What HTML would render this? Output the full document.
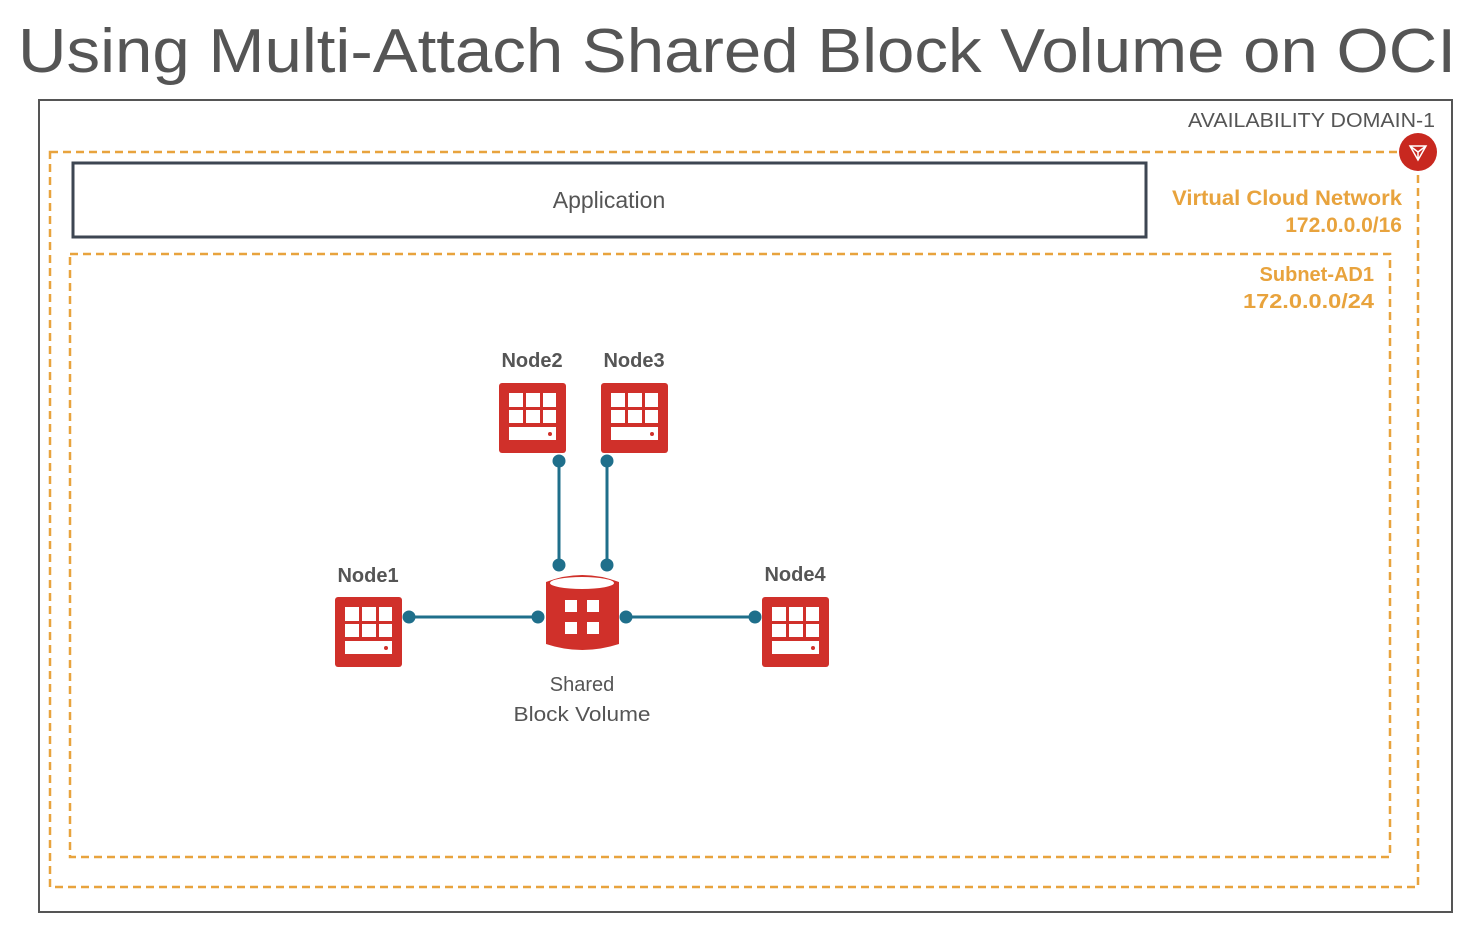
<!DOCTYPE html>
<html><head><meta charset="utf-8"><style>
body{margin:0;background:#fff;}
svg{display:block;}
text{font-family:"Liberation Sans",sans-serif;}
</style></head><body>
<svg width="1484" height="928" viewBox="0 0 1484 928" xmlns="http://www.w3.org/2000/svg">
<defs>
<g id="node">
<rect x="0" y="0" width="67" height="70" rx="3" fill="#d0302a"/>
<rect x="10" y="10" width="14" height="14" fill="#fff"/><rect x="27" y="10" width="14" height="14" fill="#fff"/><rect x="44" y="10" width="13" height="14" fill="#fff"/>
<rect x="10" y="27" width="14" height="13" fill="#fff"/><rect x="27" y="27" width="14" height="13" fill="#fff"/><rect x="44" y="27" width="13" height="13" fill="#fff"/>
<rect x="10" y="44" width="47" height="13" fill="#fff"/>
<circle cx="51" cy="51" r="2" fill="#d0302a"/>
</g>
</defs>
<text x="18" y="72" font-size="62" fill="#555" textLength="1438" lengthAdjust="spacingAndGlyphs">Using Multi-Attach Shared Block Volume on OCI</text>
<rect x="39" y="100" width="1413" height="812" fill="none" stroke="#555" stroke-width="2"/>
<text x="1188" y="127" font-size="20" fill="#555" textLength="247" lengthAdjust="spacingAndGlyphs">AVAILABILITY DOMAIN-1</text>
<rect x="50" y="152" width="1368" height="735" fill="none" stroke="#e8a33d" stroke-width="2.5" stroke-dasharray="8,5"/>
<circle cx="1418" cy="152" r="19" fill="#c8281f"/>
<path d="M1410 146 L1426 146 L1418 160 Z M1410 146 L1418 152 L1426 146 M1418 152 L1418 160" fill="none" stroke="#fff" stroke-width="1.5"/>
<text x="1172" y="205" font-size="21" font-weight="bold" fill="#e8a33d" textLength="230" lengthAdjust="spacingAndGlyphs">Virtual Cloud Network</text>
<text x="1402" y="232" font-size="21" font-weight="bold" fill="#e8a33d" text-anchor="end">172.0.0.0/16</text>
<rect x="70" y="254" width="1320" height="603" fill="none" stroke="#e8a33d" stroke-width="2.5" stroke-dasharray="8,5"/>
<text x="1374" y="281" font-size="20" font-weight="bold" fill="#e8a33d" text-anchor="end">Subnet-AD1</text>
<text x="1243" y="308" font-size="20" font-weight="bold" fill="#e8a33d" textLength="131" lengthAdjust="spacingAndGlyphs">172.0.0.0/24</text>
<rect x="73" y="163" width="1073" height="74" fill="#fff" stroke="#3d4652" stroke-width="3"/>
<text x="609" y="208" font-size="23" fill="#555" text-anchor="middle">Application</text>
<g stroke="#1f6f8b" stroke-width="3" fill="#1f6f8b">
<line x1="559" y1="461" x2="559" y2="565"/><line x1="607" y1="461" x2="607" y2="565"/>
<line x1="409" y1="617" x2="538" y2="617"/><line x1="626" y1="617" x2="755" y2="617"/>
<circle cx="559" cy="461" r="5"/><circle cx="559" cy="565" r="5"/><circle cx="607" cy="461" r="5"/><circle cx="607" cy="565" r="5"/>
<circle cx="409" cy="617" r="5"/><circle cx="538" cy="617" r="5"/><circle cx="626" cy="617" r="5"/><circle cx="755" cy="617" r="5"/>
</g>
<use href="#node" x="499" y="383"/><use href="#node" x="601" y="383"/>
<use href="#node" x="335" y="597"/><use href="#node" x="762" y="597"/>
<text x="532" y="367" font-size="20" font-weight="bold" fill="#555" text-anchor="middle">Node2</text>
<text x="634" y="367" font-size="20" font-weight="bold" fill="#555" text-anchor="middle">Node3</text>
<text x="368" y="582" font-size="20" font-weight="bold" fill="#555" text-anchor="middle">Node1</text>
<text x="795" y="581" font-size="20" font-weight="bold" fill="#555" text-anchor="middle">Node4</text>
<path d="M546 582 Q582 568 619 582 L619 644 Q582 656 546 644 Z" fill="#d0302a"/>
<ellipse cx="582" cy="583" rx="32" ry="6" fill="#fff"/>
<rect x="565" y="600" width="12" height="12" fill="#fff"/><rect x="587" y="600" width="12" height="12" fill="#fff"/>
<rect x="565" y="622" width="12" height="12" fill="#fff"/><rect x="587" y="622" width="12" height="12" fill="#fff"/>
<text x="582" y="691" font-size="20" fill="#555" text-anchor="middle">Shared</text>
<text x="582" y="721" font-size="20" fill="#555" text-anchor="middle" textLength="137" lengthAdjust="spacingAndGlyphs">Block Volume</text>
</svg>
</body></html>
